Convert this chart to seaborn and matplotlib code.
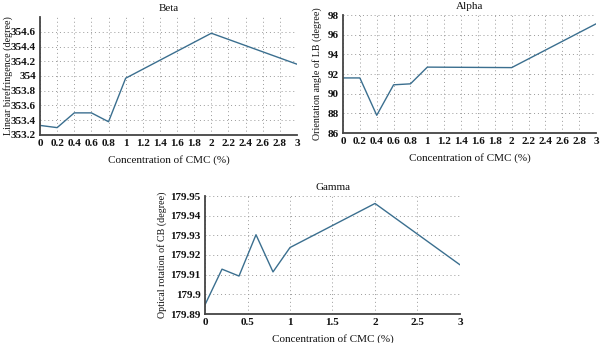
import matplotlib
matplotlib.use("Agg")
import matplotlib.pyplot as plt
import seaborn as sns
import pandas as pd
from matplotlib.ticker import FuncFormatter

sns.set_theme(style="white")
plt.rcParams['font.family'] = ['Liberation Serif', 'DejaVu Serif']

# Data
conc = [0, 0.2, 0.4, 0.6, 0.8, 1, 2, 3]
beta = [353.33, 353.30, 353.50, 353.50, 353.38, 353.97, 354.58, 354.16]
alpha = [91.6, 91.6, 87.8, 90.9, 91.0, 92.7, 92.65, 97.1]
gamma = [179.8947, 179.9128, 179.9093, 179.9303, 179.9114, 179.9238, 179.9462, 179.9150]

beta_yticks = [353.2, 353.4, 353.6, 353.8, 354, 354.2, 354.4, 354.6]
alpha_yticks = [86, 88, 90, 92, 94, 96, 98]
gamma_yticks = [179.89, 179.9, 179.91, 179.92, 179.93, 179.94, 179.95]
fine_xticks = [0, 0.2, 0.4, 0.6, 0.8, 1, 1.2, 1.4, 1.6, 1.8, 2, 2.2, 2.4, 2.6, 2.8, 3]
coarse_xticks = [0, 0.5, 1, 1.5, 2, 2.5, 3]

line_color = "#3b6f8f"
W, H = 600, 343
fig = plt.figure(figsize=(6, 3.43), dpi=100)

def add_ax(l, t, r, b):
    return fig.add_axes([l / W, 1 - b / H, (r - l) / W, (b - t) / H])

fmt = FuncFormatter(lambda v, p: f"{v:g}")

def style(ax, title, ylabel, xticks, yticks, ylim, left, right, ylab_x):
    ax.set_xlim(0, 3)
    ax.set_ylim(*ylim)
    ax.set_xticks(xticks)
    ax.set_yticks(yticks)
    ax.xaxis.set_major_formatter(fmt)
    ax.yaxis.set_major_formatter(fmt)
    ax.grid(True, linestyle=(0, (1, 3)), color="#999999", linewidth=0.7)
    for s in ["top", "right"]:
        ax.spines[s].set_visible(False)
    for s in ["left", "bottom"]:
        ax.spines[s].set_color("#444444")
        ax.spines[s].set_linewidth(1.3)
    ax.tick_params(axis="both", length=0, pad=3, labelsize=8, labelcolor="#111111")
    for lab in ax.get_xticklabels() + ax.get_yticklabels():
        lab.set_fontweight("bold")
    ax.set_title(title, fontsize=8, pad=4, color="#111111")
    ax.set_xlabel("Concentration of CMC (%)", fontsize=8, color="#111111", labelpad=5)
    ax.set_ylabel(ylabel, fontsize=7.2, color="#111111")
    ax.yaxis.set_label_coords((ylab_x - left) / (right - left), 0.5)

df = pd.DataFrame({"conc": conc, "beta": beta, "alpha": alpha, "gamma": gamma})

ax1 = add_ax(40, 17, 297, 135)
sns.lineplot(data=df, x="conc", y="beta", ax=ax1, color=line_color, linewidth=1.0)
style(ax1, "Beta", "Linear birefringence (degree)", fine_xticks, beta_yticks,
      (353.2, 354.8), 40, 297, 13)

ax2 = add_ax(343, 15, 596, 133)
sns.lineplot(data=df, x="conc", y="alpha", ax=ax2, color=line_color, linewidth=1.0)
style(ax2, "Alpha", "Orientation angle of LB (degree)", fine_xticks, alpha_yticks,
      (86, 98), 343, 596, 322)

ax3 = add_ax(205, 196, 460, 314)
sns.lineplot(data=df, x="conc", y="gamma", ax=ax3, color=line_color, linewidth=1.0)
style(ax3, "Gamma", "Optical rotation of CB (degree)", coarse_xticks, gamma_yticks,
      (179.89, 179.95), 205, 460, 167)

fig.savefig("out.png", dpi=100)
